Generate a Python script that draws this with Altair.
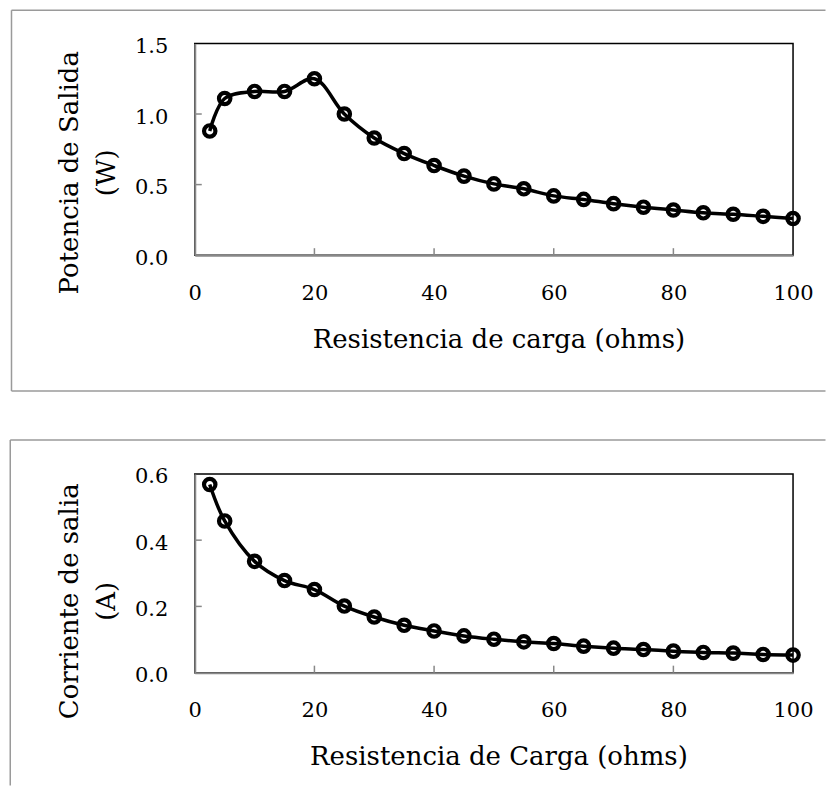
import altair as alt
import pandas as pd

# ---- data ----
resistencia = [2.5, 5, 10, 15, 20, 25, 30, 35, 40, 45, 50, 55, 60, 65, 70, 75, 80, 85, 90, 95, 100]
potencia = [0.88, 1.11, 1.16, 1.16, 1.25, 1.00, 0.83, 0.72, 0.635, 0.56, 0.505, 0.47, 0.42,
            0.395, 0.365, 0.34, 0.32, 0.30, 0.29, 0.275, 0.26]
corriente = [0.568, 0.458, 0.336, 0.278, 0.251, 0.201, 0.168, 0.143, 0.126, 0.111, 0.101, 0.093,
             0.088, 0.080, 0.074, 0.070, 0.065, 0.061, 0.059, 0.055, 0.053]

x_ticks = [0, 20, 40, 60, 80, 100]
x_inner_ticks = [20, 40, 60, 80]
y_ticks_top = [0.0, 0.5, 1.0, 1.5]
y_inner_top = [0.5, 1.0]
y_ticks_bot = [0.0, 0.2, 0.4, 0.6]
y_inner_bot = [0.2, 0.4]

FONT = "DejaVu Serif"
GRAY = "#888888"
W = 599


def panel(yvals, ydomain, yticks, yinner, H, ytitle, xtitle, title_y):
    df = pd.DataFrame({"r": resistencia, "v": yvals})
    xs = alt.Scale(domain=[0, 100], nice=False, zero=False)
    ys = alt.Scale(domain=ydomain, nice=False)
    xaxis = alt.Axis(values=x_ticks, format="d", labelFont=FONT, labelFontSize=21,
                     labelColor="black", labelPadding=27, labelFlush=False,
                     labelOverlap=False, ticks=False, tickSize=0, domainColor=GRAY,
                     domainWidth=2, grid=False, title=xtitle, titleFont=FONT,
                     titleFontSize=26, titleFontWeight="normal", titleColor="black",
                     titleX=304, titleY=92, titleBaseline="alphabetic", titleAlign="center")
    yaxis = alt.Axis(values=yticks, format=".1f", labelFont=FONT, labelFontSize=21,
                     labelColor="black", labelPadding=27, labelOffset=3,
                     labelOverlap=False, labelFlush=False, ticks=False, tickSize=0,
                     domainColor=GRAY, domainWidth=2, grid=False, title=ytitle,
                     titleFont=FONT, titleFontSize=26, titleFontWeight="normal",
                     titleColor="black", titleAngle=270, titleX=-125, titleY=title_y,
                     titleAlign="center", titleBaseline="middle", titleLineHeight=37)
    base = alt.Chart(df)
    line = base.mark_line(color="black", strokeWidth=3.5, interpolate="catmull-rom").encode(
        x=alt.X("r:Q", scale=xs, axis=xaxis),
        y=alt.Y("v:Q", scale=ys, axis=yaxis),
    )
    pts = base.mark_point(shape="circle", size=130, filled=False, stroke="black",
                          strokeWidth=4.2, opacity=1).encode(
        x=alt.X("r:Q", scale=xs, axis=xaxis), y=alt.Y("v:Q", scale=ys, axis=yaxis))
    xt = alt.Chart(pd.DataFrame({"t": x_inner_ticks})).mark_rule(
        color=GRAY, strokeWidth=1.5).encode(
        x=alt.X("t:Q", scale=xs, axis=xaxis), y=alt.value(H - 7), y2=alt.value(H))
    yt = alt.Chart(pd.DataFrame({"t": yinner})).mark_rule(
        color=GRAY, strokeWidth=1.5).encode(
        y=alt.Y("t:Q", scale=ys, axis=yaxis), x=alt.value(0), x2=alt.value(7))
    return [line, xt, yt, pts]


one = pd.DataFrame({"k": [0]})


def hrule(x1, x2, y):
    return alt.Chart(one).mark_rule(color="#9a9a9a", strokeWidth=1.5).encode(
        x=alt.value(x1), x2=alt.value(x2), y=alt.value(y))


def vrule(x, y1, y2):
    return alt.Chart(one).mark_rule(color="#9a9a9a", strokeWidth=1.5).encode(
        x=alt.value(x), y=alt.value(y1), y2=alt.value(y2))


# outer frames (relative to top plot origin)
frames = [
    hrule(-183.5, 631.5, -33.25),
    vrule(-183.5, -33.25, 348),
    hrule(-183.5, 631.5, 348),
    hrule(-184.75, 631.5, 397),
    vrule(-184.75, 397, 743),
]

top = alt.layer(*frames, *panel(potencia, [0, 1.5], y_ticks_top, y_inner_top, 212,
                                ["Potencia de Salida", "(W)"],
                                "Resistencia de carga (ohms)", 129)).properties(width=W, height=212)
bottom = alt.layer(*panel(corriente, [0, 0.6], y_ticks_bot, y_inner_bot, 199,
                          ["Corriente de salia", "(A)"],
                          "Resistencia de Carga (ohms)", 127)).properties(width=W, height=199)

chart = alt.vconcat(top, bottom, spacing=219, bounds="flush").properties(
    padding=0, background="white"
).configure_view(stroke="black", strokeWidth=1.5)

chart.save("out.html", embed_options={"renderer": "svg", "actions": False})
